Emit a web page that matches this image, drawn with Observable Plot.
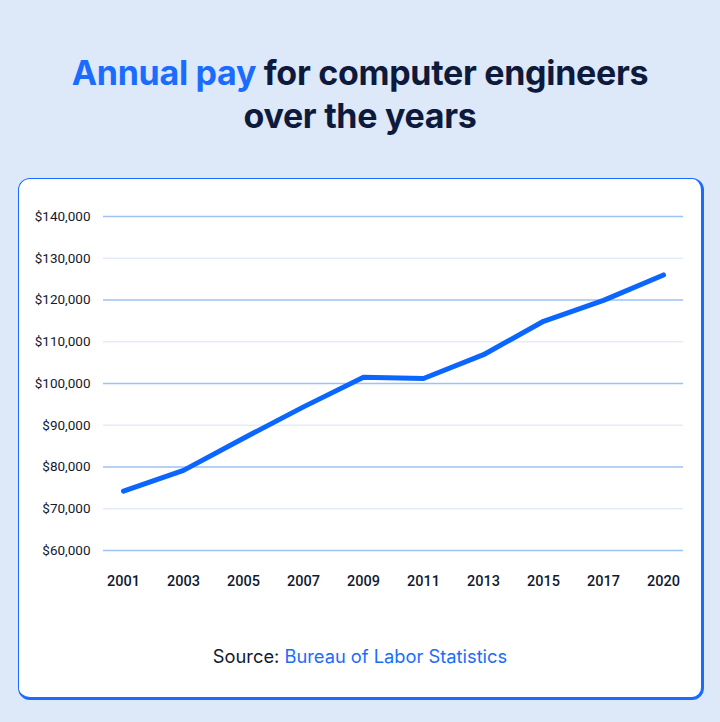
<!DOCTYPE html>
<html>
<head>
<meta charset="utf-8">
<script src="https://cdn.jsdelivr.net/npm/d3@7"></script>
<script src="https://cdn.jsdelivr.net/npm/@observablehq/plot@0.6"></script>
<style>
  html, body { margin: 0; padding: 0; }
  body { width: 720px; height: 722px; background: #dde8f8; position: relative; overflow: hidden; font-family: Inter, "Noto Sans", sans-serif; }
  #title { position: absolute; left: 0; width: 720px; top: 51px; text-align: center; font-weight: 700; font-size: 34px; line-height: 43px; color: #0e1a3c; letter-spacing: -0.3px; }
  #title .hl { color: #1a6cff; }
  #card { position: absolute; left: 18px; top: 178px; width: 686px; height: 522px; background: #fff; border-radius: 12px; border-style: solid; border-color: #1a6cff; border-width: 1px 3px 3px 1px; box-sizing: border-box; }
  #chart { position: absolute; left: 0; top: 178px; }
  #source { position: absolute; left: 0; width: 720px; top: 645px; text-align: center; font-size: 18.3px; color: #111a30; }
  #source .hl { color: #1a6cff; }
</style>
</head>
<body>
<div id="title"><span class="hl">Annual pay</span> for computer engineers<br>over the years</div>
<div id="card"></div>
<div id="chart"></div>
<div id="source">Source: <span class="hl">Bureau of Labor Statistics</span></div>
<script>
const years = ["2001","2003","2005","2007","2009","2011","2013","2015","2017","2020"];
const pay = [74200, 79200, 86900, 94400, 101500, 101200, 106900, 114900, 119900, 126000];
const yTicks = [60000, 70000, 80000, 90000, 100000, 110000, 120000, 130000, 140000];
const majorTicks = [60000, 80000, 100000, 120000, 140000];
const minorTicks = [70000, 90000, 110000, 130000];

const data = years.map((y, i) => ({year: y, pay: pay[i]}));
const fmt = d => "$" + d3.format(",")(d);

const chart = Plot.plot({
  width: 720,
  height: 420,
  marginLeft: 103,
  marginRight: 37,
  marginTop: 38,
  marginBottom: 48,
  style: {background: "transparent", fontFamily: "Roboto, Inter, sans-serif", color: "#111a30"},
  x: {type: "point", domain: years, padding: 0.316},
  y: {domain: [60000, 140000]},
  marks: [
    Plot.ruleY(minorTicks, {stroke: "#e3ecf9", strokeWidth: 1.5}),
    Plot.ruleY(majorTicks, {stroke: "#9dc2f6", strokeWidth: 1.5}),
    Plot.axisY({ticks: yTicks, tickFormat: fmt, tickSize: 0, tickPadding: 13, label: null, fontSize: 13.5}),
    Plot.axisX({tickSize: 0, tickPadding: 25, label: null, fontSize: 14.5, fontWeight: 500}),
    Plot.line(data, {x: "year", y: "pay", stroke: "#0a66ff", strokeWidth: 5, strokeLinejoin: "round"})
  ]
});
document.getElementById("chart").appendChild(chart);
</script>
</body>
</html>
